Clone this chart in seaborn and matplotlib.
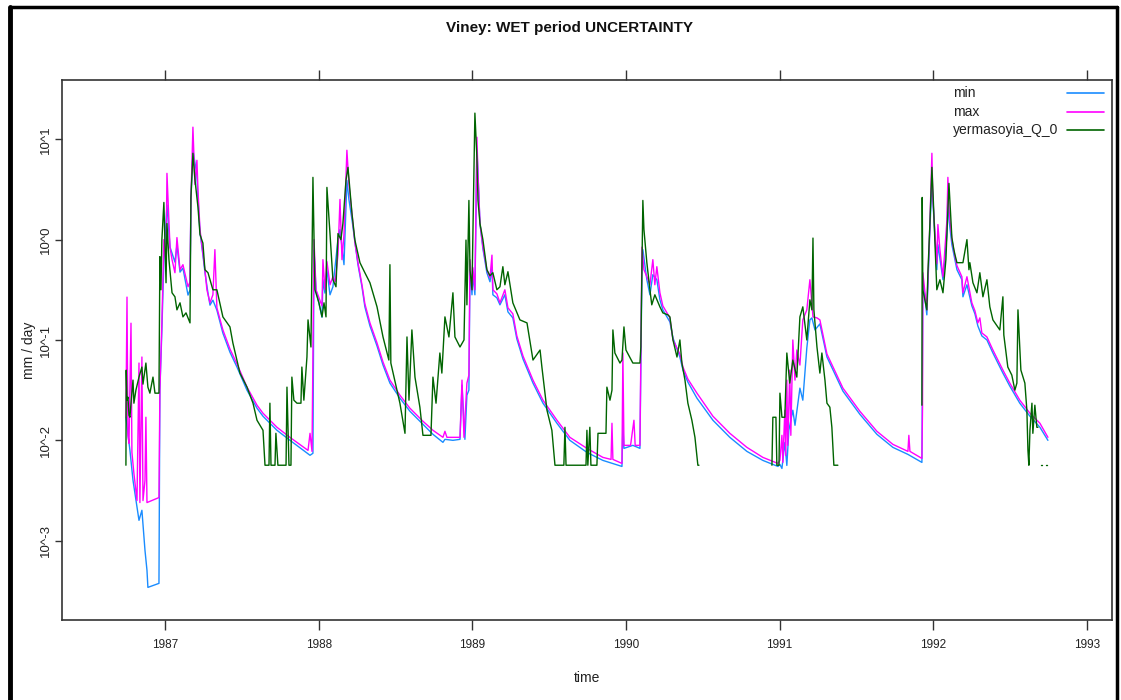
import numpy as np
import pandas as pd
import matplotlib
matplotlib.use("Agg")
import matplotlib.pyplot as plt
import seaborn as sns
from matplotlib.lines import Line2D
from matplotlib.ticker import FixedLocator, NullLocator, FixedFormatter

# ---------------- data (decimal year, log10 of mm/day) ----------------
min_year = [1986.746, 1986.772, 1986.792, 1986.818, 1986.831, 1986.850, 1986.870, 1986.883, 1986.889,
            1986.961, 1986.967, 1986.980, 1986.993, 1987.013, 1987.033, 1987.065, 1987.078, 1987.098,
            1987.117, 1987.150, 1987.163, 1987.169, 1987.182, 1987.208, 1987.215, 1987.228, 1987.247,
            1987.260, 1987.280, 1987.293, 1987.312, 1987.338, 1987.377, 1987.423, 1987.469, 1987.534,
            1987.599, 1987.638, 1987.729, 1987.813, 1987.944, 1987.963, 1987.970, 1987.983, 1988.022,
            1988.028, 1988.041, 1988.054, 1988.074, 1988.093, 1988.126, 1988.139, 1988.165, 1988.184,
            1988.197, 1988.217, 1988.236, 1988.256, 1988.282, 1988.301, 1988.334, 1988.380, 1988.419,
            1988.464, 1988.529, 1988.594, 1988.679, 1988.744, 1988.809, 1988.822, 1988.874, 1988.920,
            1988.933, 1988.952, 1988.965, 1988.978, 1988.985, 1988.998, 1989.004, 1989.017, 1989.030,
            1989.037, 1989.050, 1989.069, 1989.095, 1989.115, 1989.128, 1989.134, 1989.160, 1989.180,
            1989.212, 1989.232, 1989.264, 1989.290, 1989.330, 1989.395, 1989.460, 1989.551, 1989.635,
            1989.746, 1989.850, 1989.974, 1989.980, 1989.987, 1990.045, 1990.091, 1990.104, 1990.110,
            1990.136, 1990.156, 1990.175, 1990.201, 1990.221, 1990.240, 1990.286, 1990.306, 1990.351,
            1990.371, 1990.403, 1990.462, 1990.566, 1990.676, 1990.787, 1990.891, 1990.989, 1991.002,
            1991.015, 1991.034, 1991.047, 1991.060, 1991.086, 1991.100, 1991.132, 1991.151, 1991.177,
            1991.197, 1991.210, 1991.230, 1991.262, 1991.308, 1991.412, 1991.522, 1991.633, 1991.737,
            1991.835, 1991.926, 1991.932, 1991.958, 1991.978, 1991.991, 1991.997, 1992.010, 1992.023,
            1992.030, 1992.063, 1992.089, 1992.095, 1992.102, 1992.121, 1992.141, 1992.154, 1992.186,
            1992.193, 1992.219, 1992.251, 1992.271, 1992.290, 1992.316, 1992.349, 1992.388, 1992.453,
            1992.498, 1992.563, 1992.629, 1992.694, 1992.746]
min_log10 = [-1.770, -2.099, -2.398, -2.667, -2.797, -2.697, -3.096, -3.295, -3.465,
             -3.425, -1.501, -0.902, -0.204, 0.344, -0.075, -0.224, -0.055, -0.324,
             -0.284, -0.553, -0.503, 0.394, 0.892, 0.643, 0.394, 0.075, -0.155,
             -0.324, -0.533, -0.653, -0.603, -0.703, -0.932, -1.122, -1.271, -1.501,
             -1.680, -1.760, -1.900, -1.999, -2.149, -2.129, -0.105, -0.503, -0.773,
             -0.400, -0.533, -0.300, -0.550, -0.470, 0.000, 0.100, -0.250, 0.590,
             0.400, 0.200, -0.020, -0.250, -0.470, -0.670, -0.860, -1.060, -1.250,
             -1.430, -1.580, -1.710, -1.840, -1.940, -2.020, -1.990, -2.000, -1.990,
             -1.450, -1.990, -1.550, -1.500, -0.300, -0.550, -0.350, -0.550, 0.900,
             0.660, 0.160, -0.090, -0.330, -0.420, -0.280, -0.550, -0.580, -0.650,
             -0.550, -0.720, -0.780, -0.990, -1.190, -1.430, -1.630, -1.830, -2.000,
             -2.120, -2.200, -2.260, -1.850, -2.080, -2.050, -2.080, -0.300, -0.100,
             -0.400, -0.550, -0.350, -0.400, -0.600, -0.700, -0.820, -0.980, -1.170,
             -1.300, -1.420, -1.580, -1.800, -1.970, -2.110, -2.200, -2.260, -2.240,
             -2.280, -2.020, -2.250, -1.900, -1.700, -1.850, -1.480, -1.600, -1.080,
             -0.800, -0.780, -0.900, -0.840, -1.170, -1.510, -1.740, -1.940, -2.070,
             -2.140, -2.220, -0.400, -0.750, 0.100, 0.590, 0.400, 0.050, -0.300,
             -0.050, -0.400, 0.050, 0.450, 0.200, -0.050, -0.200, -0.300, -0.400,
             -0.570, -0.450, -0.660, -0.740, -0.860, -0.960, -1.000, -1.130, -1.330,
             -1.460, -1.630, -1.760, -1.870, -2.000]

max_year = [1986.746, 1986.753, 1986.759, 1986.766, 1986.779, 1986.785, 1986.798, 1986.818, 1986.831,
            1986.837, 1986.850, 1986.857, 1986.870, 1986.876, 1986.883, 1986.961, 1986.967, 1986.980,
            1986.993, 1987.007, 1987.013, 1987.033, 1987.046, 1987.065, 1987.078, 1987.098, 1987.117,
            1987.150, 1987.163, 1987.169, 1987.182, 1987.195, 1987.208, 1987.215, 1987.228, 1987.260,
            1987.273, 1987.293, 1987.312, 1987.325, 1987.338, 1987.377, 1987.423, 1987.469, 1987.534,
            1987.599, 1987.638, 1987.729, 1987.813, 1987.931, 1987.944, 1987.957, 1987.970, 1987.983,
            1988.022, 1988.028, 1988.041, 1988.054, 1988.074, 1988.093, 1988.108, 1988.126, 1988.139,
            1988.152, 1988.165, 1988.184, 1988.197, 1988.217, 1988.236, 1988.256, 1988.282, 1988.301,
            1988.334, 1988.380, 1988.419, 1988.464, 1988.529, 1988.594, 1988.679, 1988.744, 1988.809,
            1988.822, 1988.835, 1988.874, 1988.920, 1988.933, 1988.946, 1988.965, 1988.978, 1988.985,
            1988.998, 1989.004, 1989.017, 1989.030, 1989.037, 1989.050, 1989.069, 1989.095, 1989.115,
            1989.128, 1989.134, 1989.160, 1989.180, 1989.212, 1989.232, 1989.264, 1989.290, 1989.330,
            1989.395, 1989.460, 1989.551, 1989.635, 1989.746, 1989.850, 1989.903, 1989.909, 1989.915,
            1989.974, 1989.980, 1989.987, 1990.030, 1990.052, 1990.060, 1990.091, 1990.104, 1990.117,
            1990.136, 1990.156, 1990.175, 1990.188, 1990.201, 1990.221, 1990.240, 1990.286, 1990.306,
            1990.351, 1990.371, 1990.403, 1990.462, 1990.566, 1990.676, 1990.787, 1990.891, 1990.989,
            1991.002, 1991.015, 1991.021, 1991.034, 1991.040, 1991.047, 1991.053, 1991.066, 1991.073,
            1991.086, 1991.100, 1991.112, 1991.132, 1991.151, 1991.177, 1991.197, 1991.217, 1991.243,
            1991.262, 1991.308, 1991.412, 1991.522, 1991.633, 1991.737, 1991.835, 1991.841, 1991.848,
            1991.926, 1991.930, 1991.932, 1991.958, 1991.978, 1991.991, 1991.997, 1992.010, 1992.023,
            1992.030, 1992.043, 1992.063, 1992.089, 1992.095, 1992.102, 1992.121, 1992.141, 1992.154,
            1992.186, 1992.193, 1992.219, 1992.251, 1992.271, 1992.290, 1992.303, 1992.316, 1992.349,
            1992.388, 1992.453, 1992.498, 1992.563, 1992.629, 1992.694, 1992.746]
max_log10 = [-1.770, -0.573, -1.950, -2.030, -0.833, -2.120, -2.330, -2.600, -1.230,
             -2.620, -1.170, -2.600, -2.400, -1.770, -2.620, -2.570, -1.500, -0.830,
             0.000, -0.250, 0.660, -0.080, -0.200, -0.330, 0.020, -0.300, -0.250,
             -0.470, -0.420, 0.400, 1.120, 0.550, 0.790, 0.490, 0.100, -0.300,
             -0.500, -0.630, -0.550, -0.100, -0.680, -0.900, -1.090, -1.240, -1.470,
             -1.650, -1.730, -1.870, -1.970, -2.100, -1.930, -2.110, 0.000, -0.500,
             -0.660, -0.200, -0.500, -0.220, -0.450, -0.370, -0.420, -0.150, 0.400,
             -0.200, 0.050, 0.890, 0.560, 0.260, -0.030, -0.230, -0.450, -0.640,
             -0.830, -1.030, -1.220, -1.400, -1.550, -1.680, -1.810, -1.900, -1.970,
             -1.910, -1.970, -1.970, -1.970, -1.400, -1.970, -1.430, -1.350, -0.200,
             -0.500, -0.280, -0.500, 1.020, 0.660, 0.160, -0.070, -0.300, -0.380,
             -0.155, -0.500, -0.540, -0.630, -0.500, -0.680, -0.740, -0.960, -1.160,
             -1.400, -1.600, -1.800, -1.970, -2.080, -2.170, -2.190, -1.830, -2.190,
             -2.230, -1.130, -2.050, -2.050, -1.800, -2.050, -2.050, -0.075, -0.300,
             -0.370, -0.450, -0.200, -0.450, -0.270, -0.530, -0.660, -0.780, -1.000,
             -1.140, -1.270, -1.390, -1.530, -1.760, -1.930, -2.070, -2.170, -2.230,
             -2.200, -1.950, -2.220, -1.700, -2.150, -1.400, -2.050, -1.300, -1.950,
             -1.000, -1.400, -1.100, -1.250, -0.800, -0.700, -0.400, -0.770, -0.780,
             -0.800, -1.140, -1.480, -1.710, -1.910, -2.040, -2.110, -1.950, -2.110,
             -2.180, -1.670, -0.330, -0.700, 0.160, 0.860, 0.420, 0.090, -0.240,
             0.150, -0.100, -0.370, 0.200, 0.620, 0.300, 0.000, -0.170, -0.260,
             -0.370, -0.530, -0.370, -0.630, -0.710, -0.830, -0.780, -0.930, -0.970,
             -1.100, -1.300, -1.430, -1.600, -1.730, -1.830, -1.970]

nan = np.nan
obs_year = [1986.746, 1986.748, 1986.753, 1986.759, 1986.766, 1986.772, 1986.779, 1986.792, 1986.798,
            1986.811, 1986.831, 1986.850, 1986.857, 1986.876, 1986.889, 1986.902, 1986.922, 1986.935,
            1986.961, 1986.967, 1986.974, 1986.980, 1986.993, 1987.007, 1987.013, 1987.026, 1987.046,
            1987.065, 1987.078, 1987.098, 1987.117, 1987.137, 1987.163, 1987.169, 1987.182, 1987.195,
            1987.215, 1987.228, 1987.247, 1987.260, 1987.280, 1987.312, 1987.338, 1987.377, 1987.423,
            1987.442, 1987.488, 1987.534, 1987.573, 1987.599, 1987.638, 1987.651, 1987.677, 1987.683,
            1987.690, 1987.716, 1987.722, 1987.735, 1987.788, 1987.794, 1987.807, 1987.820, 1987.826,
            1987.839, 1987.859, 1987.885, 1987.891, 1987.904, 1987.924, 1987.931, 1987.950, 1987.963,
            1987.976, 1988.002, 1988.022, 1988.035, 1988.048, 1988.054, 1988.074, 1988.093, 1988.113,
            1988.126, 1988.145, 1988.158, 1988.178, 1988.191, 1988.204, 1988.217, 1988.236, 1988.269,
            1988.301, 1988.334, 1988.380, 1988.419, 1988.457, 1988.464, 1988.470, 1988.510, 1988.529,
            1988.562, 1988.575, 1988.588, 1988.607, 1988.627, 1988.659, 1988.679, 1988.731, 1988.744,
            1988.764, 1988.789, 1988.802, 1988.822, 1988.848, 1988.874, 1988.887, 1988.920, 1988.946,
            1988.959, 1988.965, 1988.978, 1988.985, 1988.998, 1989.017, 1989.030, 1989.037, 1989.050,
            1989.069, 1989.095, 1989.115, 1989.134, 1989.160, 1989.180, 1989.199, 1989.212, 1989.232,
            1989.264, 1989.310, 1989.356, 1989.395, 1989.441, 1989.453, 1989.486, 1989.518, 1989.538,
            1989.596, 1989.603, 1989.610, 1989.740, 1989.746, 1989.752, 1989.765, 1989.772, 1989.811,
            1989.818, 1989.870, 1989.876, 1989.896, 1989.909, 1989.915, 1989.928, 1989.961, 1989.974,
            1989.987, 1990.000, 1990.045, 1990.091, 1990.097, 1990.110, 1990.117, 1990.136, 1990.156,
            1990.168, 1990.188, 1990.221, 1990.240, 1990.273, 1990.286, 1990.306, 1990.332, 1990.351,
            1990.364, 1990.384, 1990.403, 1990.429, 1990.449, 1990.468, 1990.475, 1990.700,
            1990.950, 1990.956, 1990.976, 1990.982, 1990.996, 1991.002, 1991.015, 1991.034, 1991.047,
            1991.066, 1991.086, 1991.112, 1991.132, 1991.151, 1991.177, 1991.197, 1991.210, 1991.217,
            1991.223, 1991.243, 1991.262, 1991.275, 1991.295, 1991.308, 1991.327, 1991.340, 1991.353,
            1991.379, 1991.600,
            1991.926, 1991.928, 1991.932, 1991.945, 1991.958, 1991.965, 1991.978, 1991.991, 1992.000,
            1992.010, 1992.023, 1992.043, 1992.063, 1992.082, 1992.102, 1992.121, 1992.134, 1992.141,
            1992.154, 1992.193, 1992.219, 1992.232, 1992.238, 1992.258, 1992.284, 1992.303, 1992.323,
            1992.349, 1992.368, 1992.388, 1992.433, 1992.453, 1992.459, 1992.485, 1992.511, 1992.531,
            1992.544, 1992.551, 1992.570, 1992.596, 1992.609, 1992.616, 1992.622, 1992.629, 1992.642,
            1992.648, 1992.661, 1992.674, 1992.681, 1992.690,
            1992.698, 1992.705, 1992.720,
            1992.735, 1992.742]
obs_log10 = [-2.248, -1.301, -1.600, -1.570, -1.750, -1.770, -1.630, -1.400, -1.630,
             -1.500, -1.370, -1.270, -1.440, -1.230, -1.470, -1.530, -1.370, -1.530,
             -1.530, -0.170, -0.500, 0.000, 0.370, -0.430, 0.160, -0.200, -0.530,
             -0.570, -0.700, -0.630, -0.770, -0.730, -0.830, 0.420, 0.860, 0.600,
             0.320, 0.050, -0.035, -0.300, -0.330, -0.500, -0.500, -0.770, -0.870,
             -1.030, -1.330, -1.470, -1.630, -1.800, -1.900, -2.248, -2.248, -1.630,
             -2.248, -2.248, -1.930, -2.248, -2.248, -1.470, -2.248, -2.248, -1.370,
             -1.600, -1.630, -1.630, -1.270, -1.600, -1.170, -0.800, -1.070, 0.620,
             -0.500, -0.630, -0.770, -0.630, -0.770, 0.520, 0.060, -0.400, -0.470,
             0.060, 0.000, 0.160, 0.590, 0.720, 0.490, 0.260, -0.005, -0.230,
             -0.330, -0.430, -0.670, -0.970, -1.200, -0.250, -1.230, -1.500, -1.630,
             -1.930, -0.970, -1.600, -0.900, -1.370, -1.670, -1.950, -1.950, -1.370,
             -1.630, -1.130, -1.330, -0.770, -0.970, -0.530, -0.970, -1.070, -1.000,
             -0.005, -0.650, 0.390, -0.300, -0.500, 1.260, 0.820, 0.390, 0.160,
             0.000, -0.300, -0.360, -0.330, -0.500, -0.470, -0.270, -0.450, -0.320,
             -0.630, -0.800, -0.830, -1.200, -1.100, -1.270, -1.700, -1.900, -2.248,
             -2.248, -1.870, -2.248, -2.248, -1.900, -2.248, -1.870, -2.248, -2.248,
             -1.930, -1.930, -1.470, -1.600, -1.500, -0.900, -1.130, -1.230, -1.200,
             -0.870, -1.100, -1.230, -1.230, -1.070, 0.390, 0.100, -0.230, -0.500,
             -0.650, -0.550, -0.670, -0.730, -0.750, -0.770, -1.000, -1.170, -1.000,
             -1.230, -1.400, -1.630, -1.800, -1.970, -2.248, -2.248, nan,
             -2.248, -1.770, -1.770, -2.248, -2.248, -1.530, -1.770, -1.770, -1.130,
             -1.430, -1.200, -1.370, -0.770, -0.670, -1.000, -0.600, -0.700, 0.015,
             -0.700, -1.070, -1.330, -1.130, -1.400, -1.630, -1.670, -1.870, -2.248,
             -2.248, nan,
             -1.650, 0.420, -0.500, -0.600, -0.700, -0.330, 0.160, 0.720, 0.400,
             0.000, -0.500, -0.400, -0.530, -0.200, 0.560, 0.020, -0.100, -0.150,
             -0.230, -0.230, 0.000, -0.300, -0.230, -0.430, -0.530, -0.330, -0.570,
             -0.400, -0.670, -0.800, -0.900, -0.570, -0.950, -1.270, -1.350, -1.500,
             -1.430, -0.700, -1.300, -1.430, -1.700, -2.100, -2.248, -1.900, -1.630,
             -1.930, -1.650, -1.870, -1.870, nan,
             -2.248, -2.248, nan,
             -2.248, -2.248]

series_names = ["min", "max", "yermasoyia_Q_0"]
series_colors = ["#1a8cff", "#ff00ff", "#006400"]
x_ticks = [1987, 1988, 1989, 1990, 1991, 1992, 1993]
y_ticks = [1e-3, 1e-2, 1e-1, 1e0, 1e1]
y_tick_labels = ["10^-3", "10^-2", "10^-1", "10^0", "10^1"]


def frame(years, logs, name):
    logs = np.asarray(logs, dtype=float)
    seg = np.cumsum(np.isnan(logs))
    df = pd.DataFrame({"year": years, "value": 10 ** logs, "seg": seg, "series": name})
    return df.dropna()


dfs = [frame(min_year, min_log10, "min"),
       frame(max_year, max_log10, "max"),
       frame(obs_year, obs_log10, "yermasoyia_Q_0")]

sns.set_theme(style="white")
plt.rcParams['font.family'] = ['Liberation Sans', 'DejaVu Sans']

W, H = 1121, 700
fig = plt.figure(figsize=(W / 100, H / 100), dpi=100)
ax = fig.add_axes([62 / W, 1 - 620 / H, (1112 - 62) / W, (620 - 80) / H])

for df, col in zip(dfs, series_colors):
    sns.lineplot(data=df, x="year", y="value", units="seg", estimator=None, sort=False,
                 color=col, lw=1.0, ax=ax, legend=False)

ax.set_yscale("log")
ax.set_xlim(1986.330, 1993.163)
ax.set_ylim(10 ** -3.79, 10 ** 1.59)

ax.xaxis.set_major_locator(FixedLocator(x_ticks))
ax.xaxis.set_major_formatter(FixedFormatter([str(t) for t in x_ticks]))
ax.xaxis.set_minor_locator(NullLocator())
ax.yaxis.set_major_locator(FixedLocator(y_ticks))
ax.yaxis.set_major_formatter(FixedFormatter(y_tick_labels))
ax.yaxis.set_minor_locator(NullLocator())

ax.tick_params(axis="x", which="major", direction="out", length=7, width=1.0, color="#333333",
               bottom=True, top=True, labelbottom=True, labeltop=False, labelsize=8.5,
               pad=7, labelcolor="#222222")
ax.tick_params(axis="y", which="major", direction="out", length=5, width=1.0, color="#333333",
               left=True, right=False, labelsize=9.5, pad=2, labelcolor="#222222")
for lab in ax.get_yticklabels():
    lab.set_rotation(90)
    lab.set_va("center")

for s in ax.spines.values():
    s.set_visible(True)
    s.set_color("#333333")
    s.set_linewidth(1.2)

ax.set_xlabel("time", fontsize=10, color="#222222", labelpad=14)
ax.set_ylabel("mm / day", fontsize=10, color="#222222", labelpad=3)

fig.text(569 / W, 1 - 28 / H, "Viney: WET period UNCERTAINTY", ha="center", va="center",
         fontsize=11, fontweight="bold", color="#111111")

# legend (lattice style: text left, line right)
leg_y = [0.976, 0.9405, 0.907]
for name, col, yy in zip(series_names, series_colors, leg_y):
    ax.text(0.8486, yy, name, transform=ax.transAxes, fontsize=10, va="center", ha="left",
            color="#222222")
    ax.add_line(Line2D([0.957, 0.992], [yy, yy], transform=ax.transAxes, color=col, lw=1.2))

# black page border
fig.add_artist(Line2D([10 / W, 10 / W], [0, 1 - 7 / H], transform=fig.transFigure, color="black", lw=3.5))
fig.add_artist(Line2D([10 / W, 1117 / W], [1 - 7 / H, 1 - 7 / H], transform=fig.transFigure, color="black", lw=2.5))
fig.add_artist(Line2D([1117 / W, 1117 / W], [0, 1 - 7 / H], transform=fig.transFigure, color="black", lw=2.5))

fig.savefig("out.png", dpi=100, facecolor="white")
